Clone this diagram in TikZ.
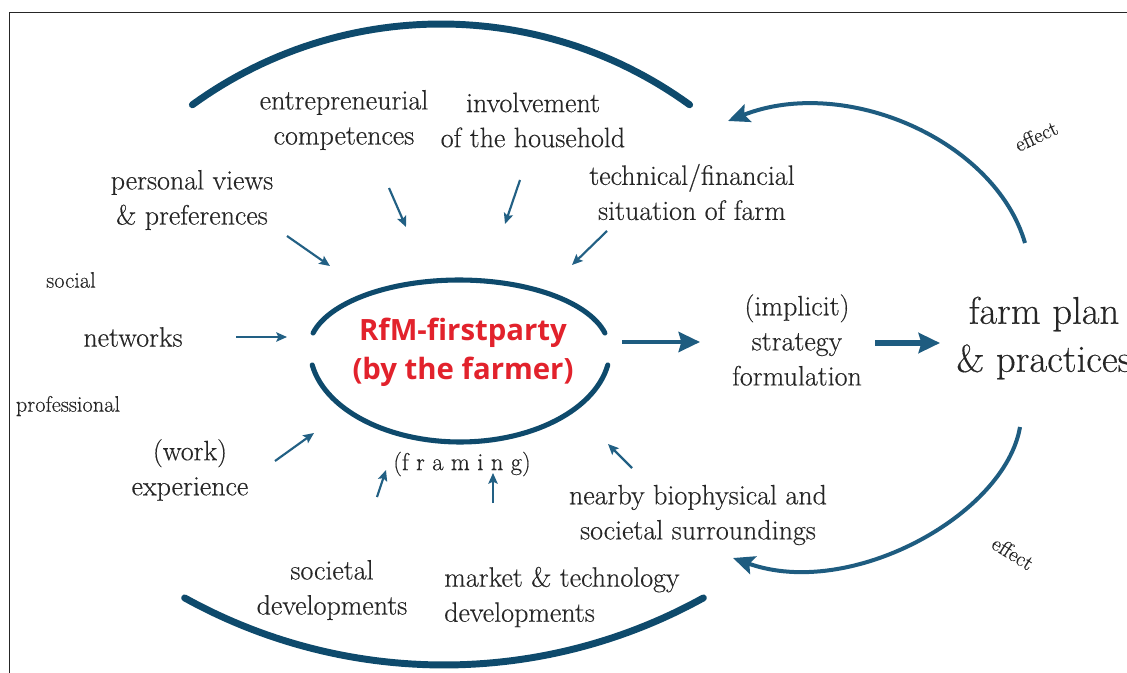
\documentclass[tikz,border=0pt]{standalone}
\usepackage{fontspec}
\setmainfont{Latin Modern Roman}[FakeBold=0.35]
\newfontfamily\boldsans{Open Sans}[BoldFont={* Bold}]
\usetikzlibrary{arrows.meta}
\definecolor{ringblue}{RGB}{14,74,108}
\definecolor{feedblue}{RGB}{34,96,132}
\definecolor{loopblue}{RGB}{30,92,128}
\definecolor{txtgray}{RGB}{38,38,38}
\definecolor{rfmred}{RGB}{226,34,44}
\tikzset{
  lbl/.style={text=txtgray, font=\fontsize{21}{26.3}\selectfont, align=center, inner sep=0pt},
  minor/.style={text=txtgray, font=\fontsize{16.8}{19}\selectfont, inner sep=0pt},
  ring/.style={draw=ringblue, line width=5.2pt, line cap=round},
  inner ring/.style={draw=ringblue, line width=3.8pt, line cap=round},
  feed/.style={draw=feedblue, line width=1.6pt, -{Stealth[length=8pt,width=7pt,inset=1.5pt]}},
  loop/.style={draw=loopblue, line width=3pt, -{Stealth[length=16pt,width=14pt,inset=3pt]}},
  flow/.style={draw=loopblue, -{Stealth[length=16pt,width=15pt,inset=2pt]}}
}
\begin{document}
\begin{tikzpicture}[x=0.75pt,y=-0.75pt]
\useasboundingbox (0,0) rectangle (1127,673);
\fill[white] (0,0) rectangle (1127,673);
% frame
\draw[black!85, line width=1.1pt] (9.5,690) |- (1140,12.5);

% outer arcs
\draw[ring] plot[domain=54:126, samples=60] ({441+423*cos(\x)}, {447-423*sin(\x)});
\draw[ring] plot[domain=-61:-119, samples=60] ({444+535*cos(\x)}, {130-535*sin(\x)});

% central lens
\draw[inner ring] plot[domain=13.4:166.6, samples=60] ({459+150*cos(\x)}, {349-69*sin(\x)});
\draw[inner ring] plot[domain=189.9:350.1, samples=60] ({460+150*cos(\x)}, {349-93*sin(\x)});

% centre text
\node[text=rfmred, font=\boldsans\bfseries\fontsize{22}{29}\selectfont, align=center, inner sep=0pt] (rfm) at (463,352) {RfM-firstparty\\(by the farmer)};
\node[lbl, font=\fontsize{18.4}{21}\selectfont] (framing) at (462,464) {(f r a m i n g)};

% influences
\node[lbl] (entre) at (344,120) {entrepreneurial\\competences};
\node[lbl] (involve) at (533,120) {involvement\\of the household};
\node[lbl] (techfin) at (692,192) {technical/financial\\situation of farm};
\node[lbl] (views) at (192,200) {personal views\\\& preferences};
\node[minor] (social) at (71,280) {social};
\node[lbl] (networks) at (133,337) {networks};
\node[minor] (prof) at (68,406) {professional};
\node[lbl] (work) at (190,470) {(work)\\experience};
\node[lbl] (societal) at (332,590) {societal\\developments};
\node[lbl, align=left, anchor=west] (market) at (444,597) {market \& technology\\developments};
\node[lbl] (nearby) at (698,515) {nearby biophysical and\\societal surroundings};

% strategy and outcome
\node[lbl] (strategy) at (797,340) {(implicit)\\strategy\\formulation};
\node[lbl, font=\fontsize{29}{36}\selectfont] (plan) at (1044,338) {farm plan\\\& practices};

% effect labels
\node[minor, font=\fontsize{16}{18}\selectfont, rotate=25] (effTop) at (1036,136) {effect};
\node[minor, font=\fontsize{16}{18}\selectfont, rotate=-32] (effBot) at (1013,553) {effect};

% arrow ends
\coordinate (viewsA) at (287,236); \coordinate (viewsB) at (330,266);
\coordinate (entreA) at (389,188); \coordinate (entreB) at (406,227);
\coordinate (invA) at (520,180); \coordinate (invB) at (505,224);
\coordinate (techA) at (607,231); \coordinate (techB) at (572,265);
\coordinate (netA) at (236,337); \coordinate (netB) at (287,337);
\coordinate (workA) at (275,461); \coordinate (workB) at (314,433);
\coordinate (socA) at (377,497); \coordinate (socB) at (386,470);
\coordinate (markA) at (493,503); \coordinate (markB) at (493,473);
\coordinate (nearA) at (632,468); \coordinate (nearB) at (608,444);
\coordinate (rfmOut) at (622,342); \coordinate (stratIn) at (700,342);
\coordinate (stratOut) at (875,343); \coordinate (planIn) at (940,343);
\coordinate (loopTopA) at (1025,243); \coordinate (loopTopB) at (728,121);
\coordinate (loopBotA) at (1020,427); \coordinate (loopBotB) at (733,558);

% influence arrows
\draw[feed] (viewsA) -- (viewsB);
\draw[feed] (entreA) -- (entreB);
\draw[feed] (invA) -- (invB);
\draw[feed] (techA) -- (techB);
\draw[feed] (netA) -- (netB);
\draw[feed] (workA) -- (workB);
\draw[feed] (socA) -- (socB);
\draw[feed] (markA) -- (markB);
\draw[feed] (nearA) -- (nearB);

% main flow
\draw[flow, line width=3.2pt] (rfmOut) -- (stratIn);
\draw[flow, line width=5pt] (stratOut) -- (planIn);

% feedback loops
\draw[loop] (loopTopA) .. controls (995,140) and (845,75) .. (loopTopB);
\draw[loop] (loopBotA) .. controls (1005,515) and (850,600) .. (loopBotB);
\end{tikzpicture}
\end{document}
